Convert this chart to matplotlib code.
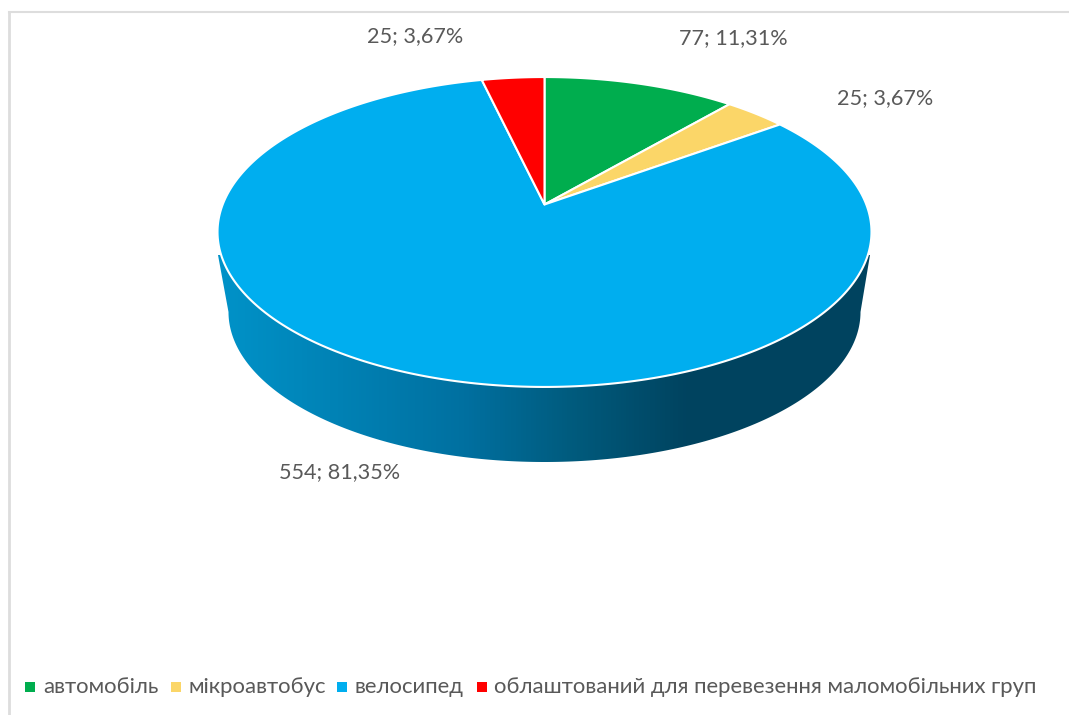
import numpy as np
import matplotlib
matplotlib.use("Agg")
import matplotlib.pyplot as plt
from matplotlib.colors import LinearSegmentedColormap
from matplotlib.patches import Polygon

categories = ["автомобіль", "мікроавтобус", "велосипед",
              "облаштований для перевезення маломобільних груп"]
values = [77, 25, 554, 25]
percents = ["11,31", "3,67", "81,35", "3,67"]
colors = ["#00AD4E", "#FBD668", "#00AEEF", "#FF0000"]
side_colors = ["#0093C9", "#0070A0", "#005A7C", "#00435F", "#00435F"]
side_stops = [0.0, 0.38, 0.55, 0.72, 1.0]

plt.rcParams["font.family"] = ["Lato", "Open Sans", "DejaVu Sans"]
txt_col = "#595959"

fig = plt.figure(figsize=[10.69, 7.15], dpi=100)
ax = fig.add_axes([0, 0, 1, 1])
ax.set_xlim(0, 1069)
ax.set_ylim(715, 0)
ax.axis("off")

# pie centre and perspective of the tilted disc
cx0 = 544.5
cy0 = 204.5
kx = 321.8
ka = -113.8
kc = 0.1774


def proj(theta):
    # theta clockwise from 12 o'clock, unit circle -> picture
    x = np.sin(theta)
    y = np.cos(theta)
    den = 1 + kc * y
    return cx0 + kx * x / den, (ka * y + cy0) / den


# chart frame
ax.plot([9, 9], [715, 12], color="#DDDDDD", lw=2.0, zorder=1)
ax.plot([9, 1069], [12, 12], color="#DDDDDD", lw=1.5, zorder=1)

# side wall
low_t = np.linspace(np.pi / 2, 3 * np.pi / 2, 361)
low_x = cx0 + 316 * np.sin(low_t)
low_y = 312 - 150 * np.cos(low_t)
wall = np.vstack([
    np.column_stack([low_x, low_y]),
    [[218, 255]],
    [[870, 255]],
])
cmap = LinearSegmentedColormap.from_list("side", list(zip(side_stops, side_colors)))
grad = np.linspace(0, 1, 660).reshape(1, -1)
img = ax.imshow(grad, extent=[214, 874, 470, 240], cmap=cmap, aspect="auto", zorder=2)
clip = Polygon(wall, transform=ax.transData, facecolor="none", edgecolor="none")
ax.add_patch(clip)
img.set_clip_path(clip)
ax.set_xlim(0, 1069)
ax.set_ylim(715, 0)

# top face
frac = np.cumsum([0] + values) / float(sum(values))
for k in range(len(values)):
    a = np.linspace(frac[k], frac[k + 1], 300) * 2 * np.pi
    xs, ys = proj(a)
    xs = np.r_[cx0, xs]
    ys = np.r_[cy0, ys]
    ax.fill(xs, ys, facecolor=colors[k], edgecolor="white", lw=1.5, zorder=3, joinstyle="round")

# data labels
label_pos = [(733.5, 38), (885.5, 98), (340, 472), (415, 36)]
for k in range(len(values)):
    ax.text(label_pos[k][0], label_pos[k][1], "%d; %s%%" % (values[k], percents[k]),
            color=txt_col, fontsize=15.6, ha="center", va="center", zorder=5)

# legend
leg_mark = [30, 175.5, 341.5, 482]
leg_text = [43, 188, 354, 494]
for k in range(len(categories)):
    ax.scatter([leg_mark[k]], [687], marker="s", s=42, color=colors[k], linewidths=0, zorder=5)
    ax.text(leg_text[k], 687, categories[k], color=txt_col, fontsize=15.9, ha="left",
            va="center", zorder=5)

fig.savefig("out.png", dpi=100)
